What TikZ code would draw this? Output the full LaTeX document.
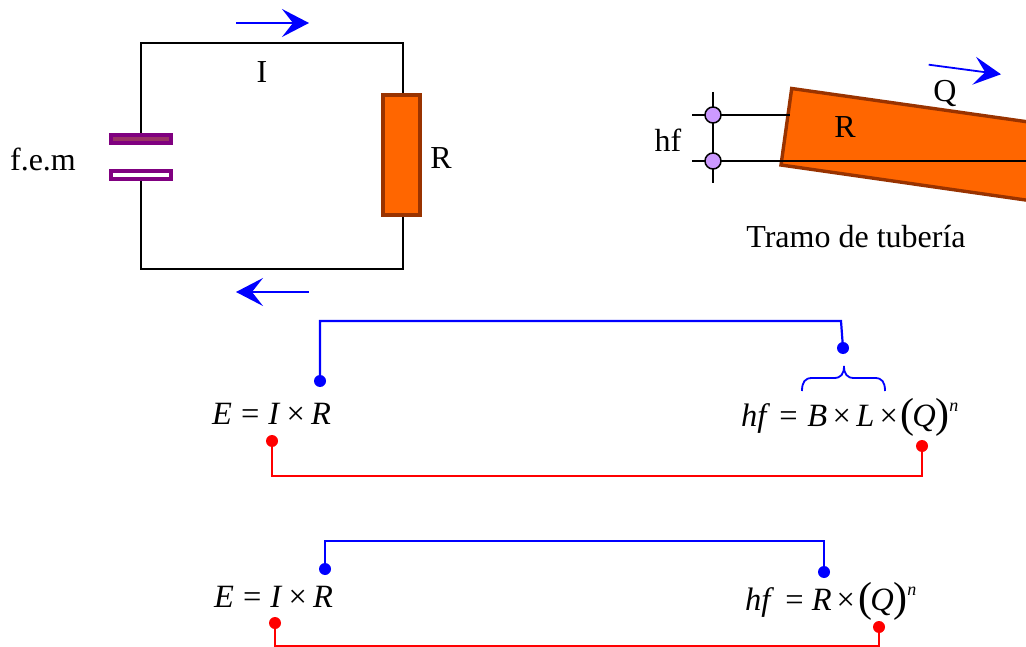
\documentclass[tikz,border=0pt]{standalone}
\usepackage{fontspec}
\setmainfont{Liberation Serif}
\usetikzlibrary{arrows.meta}
\definecolor{pipeO}{HTML}{FF6600}
\definecolor{pipeB}{HTML}{993300}
\definecolor{plateP}{HTML}{800080}
\definecolor{plateF}{HTML}{993366}
\definecolor{gauge}{HTML}{CC99FF}
\newcommand{\mi}[1]{{\itshape #1}}
\newcommand{\gp}[1]{\kern #1pt\relax}
\newcommand{\lp}{{\fontsize{42}{42}\selectfont\raisebox{-1.5pt}{(}}}
\newcommand{\rp}{{\fontsize{42}{42}\selectfont\raisebox{-1.5pt}{)}}}
\newcommand{\supn}{\raisebox{15pt}{\fontsize{18}{18}\selectfont\itshape n}}
\tikzset{
  wire/.style={draw=black,line width=1.6pt},
  lbl/.style={inner sep=0pt,font=\fontsize{32}{36}\selectfont},
  eqn/.style={inner sep=0pt,anchor=base west,font=\fontsize{32.5}{36}\selectfont},
  flow/.style={draw=blue,line width=1.8pt,-{Stealth[length=27pt,width=28pt,inset=11pt]}},
  blink/.style={draw=blue,line width=2.2pt,line join=miter},
  rlink/.style={draw=red,line width=2.2pt,line join=miter},
  bdot/.style={circle,fill=blue,minimum size=12pt,inner sep=0pt},
  rdot/.style={circle,fill=red,minimum size=12pt,inner sep=0pt},
  plate/.style={draw=plateP,line width=4pt,minimum width=60pt,minimum height=8pt,inner sep=0pt},
  gaugedot/.style={circle,draw=black,line width=1.5pt,fill=gauge,minimum size=16pt,inner sep=0pt}
}
\begin{document}
\begin{tikzpicture}[x=1pt,y=-1pt]
\useasboundingbox (0,0) rectangle (1026,647);
% circuit
\coordinate (c1) at (141,43);
\coordinate (c2) at (403,43);
\coordinate (c3) at (403,269);
\coordinate (c4) at (141,269);
\node[plate,fill=plateF] (pt) at (141,139) {};
\node[plate,fill=white] (pb) at (141,175) {};
\node[draw=pipeB,fill=pipeO,line width=4pt,minimum width=37pt,minimum height=120pt,inner sep=0pt] (res) at (401.5,155) {};
\draw[wire,line join=miter] (pt.north) -- (c1) -- (c2) -- (c2 |- res.north);
\draw[wire,line join=miter] (pb.south) -- (c4) -- (c3) -- (c3 |- res.south);
\coordinate (a1s) at (236,23); \coordinate (a1e) at (309,23);
\draw[flow] (a1s) -- (a1e);
\coordinate (a2s) at (309,292); \coordinate (a2e) at (236,292);
\draw[flow] (a2s) -- (a2e);
\node[lbl] (lI) at (262,72) {I};
\node[lbl] (lR) at (441,158) {R};
\node[lbl] (lfem) at (43,159) {f.e.m};
% pipe
\begin{scope}
\clip (0,0) rectangle (1026,647);
\coordinate (p1) at (791.7,88.5);
\coordinate (p2) at (781,165);
\coordinate (p3) at (1050,203.5);
\coordinate (p4) at (1050,125);
\filldraw[draw=pipeB,fill=pipeO,line width=3.4pt,line join=miter] (p1) -- (p2) -- (p3) -- (p4) -- cycle;
\coordinate (h1l) at (692,115); \coordinate (h1r) at (790,115);
\coordinate (h2l) at (692,161); \coordinate (h2r) at (1030,161);
\coordinate (vt) at (713,92); \coordinate (vb) at (713,183);
\draw[wire] (h1l) -- (h1r);
\draw[wire] (h2l) -- (h2r);
\draw[wire] (vt) -- (vb);
\end{scope}
\node[gaugedot] (g1) at (713,115) {};
\node[gaugedot] (g2) at (713,161) {};
\coordinate (qs) at (928.7,64.7); \coordinate (qe) at (1001,74.3);
\draw[flow] (qs) -- (qe);
\node[lbl] (lhf) at (668,140) {hf};
\node[lbl] (lpR) at (845,127) {R};
\node[lbl] (lQ) at (945,94) {Q};
\node[lbl] (ltramo) at (856,237) {Tramo de tubería};
% equations, upper row
\node[eqn] (e1) at (212,424) {\mi{E}\gp{9}=\gp{9}\mi{I}\gp{7.5}×\gp{6}\mi{R}};
\node[eqn] (e2) at (741,426) {\mi{hf}\gp{13}=\gp{9.5}\mi{B}\gp{5.5}×\gp{5.5}\mi{L}\gp{5}×\gp{2.5}\lp\gp{-2}\mi{Q}\gp{-0.5}\rp\supn};
\node[bdot] (d1) at (320,381) {};
\node[bdot] (d2) at (843,348) {};
\node[rdot] (d3) at (272,441) {};
\node[rdot] (d4) at (922,446) {};
\coordinate (k1) at (320,321); \coordinate (k2) at (841,321);
\coordinate (k3) at (272,476); \coordinate (k4) at (922,476);
\draw[blink] (d1.center) -- (k1) -- (k2) -- (d2.center);
\draw[rlink] (d3.center) -- (k3) -- (k4) -- (d4.center);
% brace
\coordinate (bl) at (802,391); \coordinate (bt) at (844,366); \coordinate (br) at (885,391);
\draw[draw=blue,line width=1.8pt]
  (bl) .. controls (802,382) and (805,378) .. (812,378) -- (834,378)
  .. controls (841,378) and (844,374) .. (bt)
  .. controls (844,374) and (847,378) .. (854,378) -- (875,378)
  .. controls (882,378) and (885,382) .. (br);
% equations, lower row
\node[eqn] (e3) at (214,607.7) {\mi{E}\gp{9}=\gp{9}\mi{I}\gp{7.5}×\gp{6}\mi{R}};
\node[eqn] (e4) at (745,610) {\mi{hf}\gp{15}=\gp{8}\mi{R}\gp{5}×\gp{3.5}\lp\gp{-2}\mi{Q}\gp{-0.5}\rp\supn};
\node[bdot] (d5) at (325,569) {};
\node[bdot] (d6) at (824,572) {};
\node[rdot] (d7) at (275,623) {};
\node[rdot] (d8) at (879,627) {};
\coordinate (k5) at (325,541); \coordinate (k6) at (824,541);
\coordinate (k7) at (275,646); \coordinate (k8) at (879,646);
\draw[blink] (d5.center) -- (k5) -- (k6) -- (d6.center);
\draw[rlink] (d7.center) -- (k7) -- (k8) -- (d8.center);
\end{tikzpicture}
\end{document}
